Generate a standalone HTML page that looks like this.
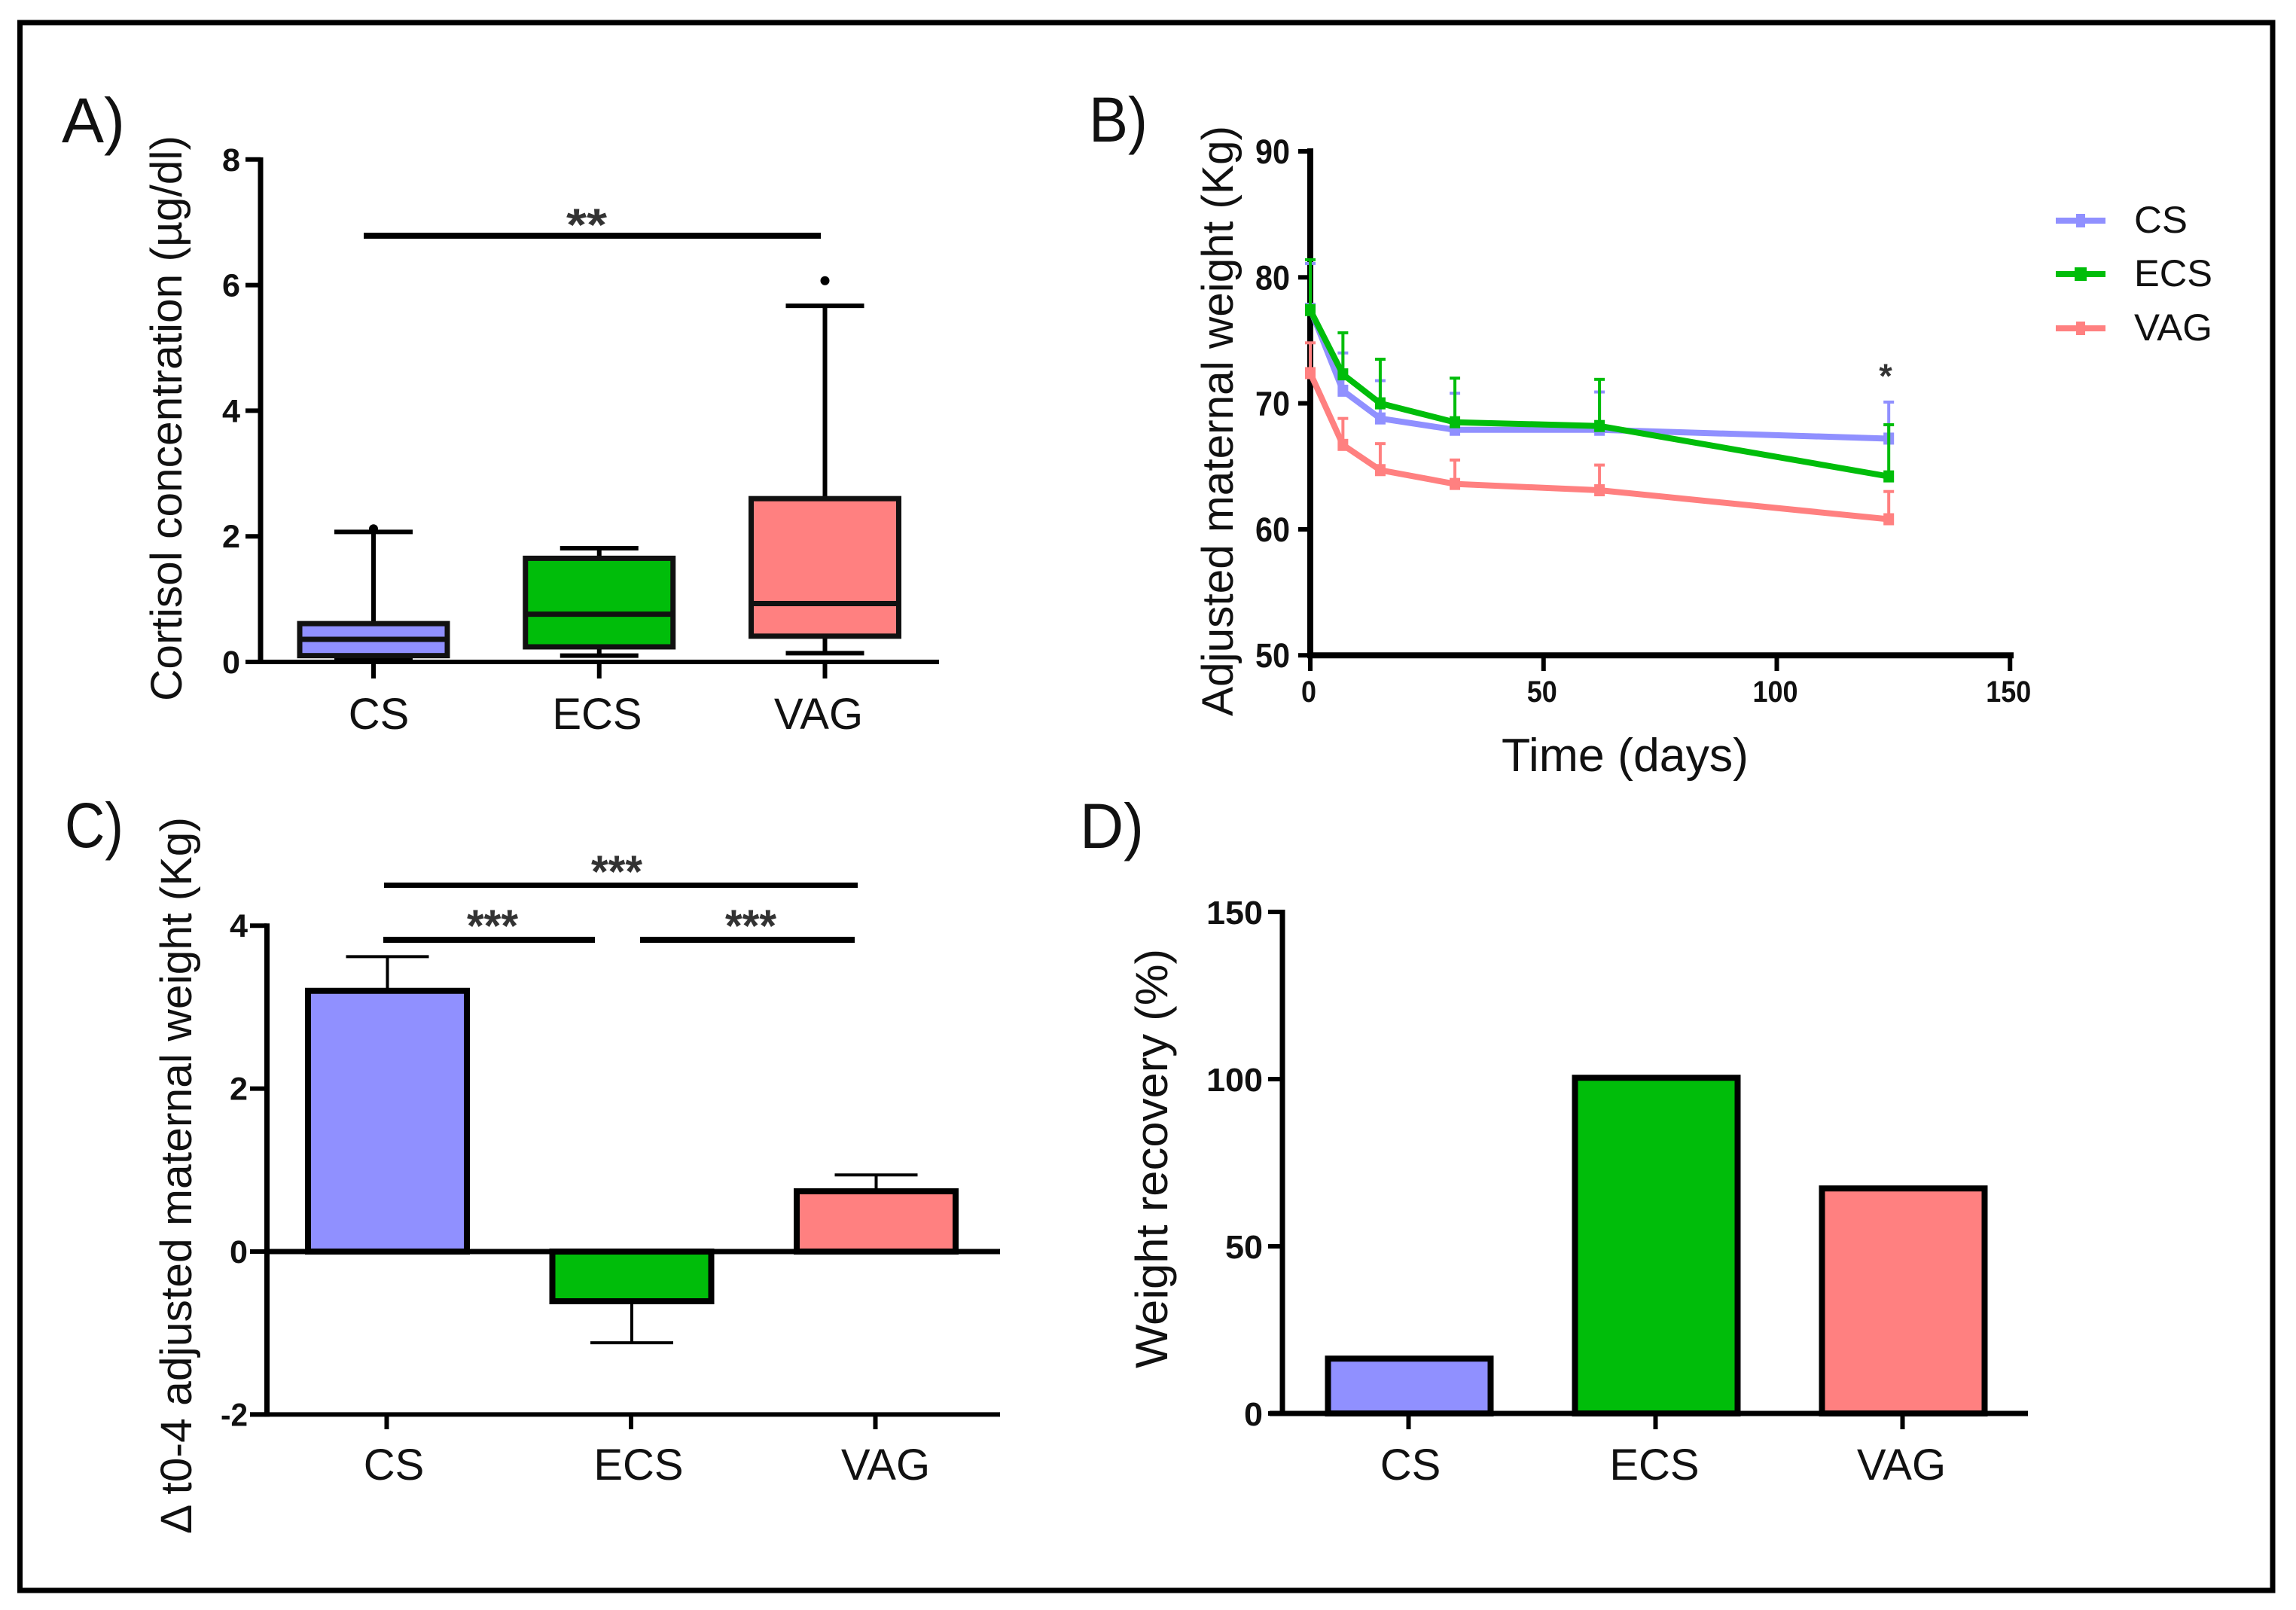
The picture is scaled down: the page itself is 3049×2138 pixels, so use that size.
<!DOCTYPE html>
<html>
<head>
<meta charset="utf-8">
<title>Maternal cortisol and weight figure</title>
<style>
html,body{margin:0;padding:0;background:#fff;}
svg{display:block;}
text{font-family:"Liberation Sans",sans-serif;fill:#111;}
.title{font-size:58px;}
.panel{font-size:84px;}
.cat{font-size:58px;}
.legend{font-size:50px;}
.star{font-size:60px;fill:#333;font-weight:bold;}
</style>
</head>
<body>
<svg id="figure" xmlns="http://www.w3.org/2000/svg" width="3049" height="2138" viewBox="0 0 3049 2138">
  <rect x="0" y="0" width="3049" height="2138" fill="#fff"/>
  <rect x="26.5" y="30" width="2991.5" height="2082" fill="none" stroke="#000" stroke-width="7"/>

  <g id="panelA">
    <text class="panel" x="82" y="189">A)</text>
    <text class="title" transform="translate(241,931) rotate(-90)" textLength="751" lengthAdjust="spacingAndGlyphs">Cortisol concentration (µg/dl)</text>
    <rect x="483" y="309" width="607" height="8" fill="#000"/>
    <text class="star" x="752" y="319" textLength="54" lengthAdjust="spacingAndGlyphs">**</text>
  </g>

  <g id="panelB">
    <text class="panel" x="1446" y="188" textLength="78" lengthAdjust="spacingAndGlyphs">B)</text>
    <text class="title" transform="translate(1637,951) rotate(-90)" textLength="784" lengthAdjust="spacingAndGlyphs">Adjusted maternal weight (Kg)</text>
    <text x="1994" y="1024" font-size="62" textLength="328" lengthAdjust="spacingAndGlyphs">Time (days)</text>
    <text class="star" x="2504" y="515" text-anchor="middle" style="font-size:45px">*</text>
  </g>

  <g id="panelC">
    <text class="panel" x="86" y="1125" textLength="78" lengthAdjust="spacingAndGlyphs">C)</text>
    <text class="title" transform="translate(254,2037) rotate(-90)" textLength="952" lengthAdjust="spacingAndGlyphs">Δ t0-4 adjusted maternal weight (Kg)</text>
    <rect x="510" y="1172" width="629" height="7" fill="#000"/>
    <rect x="509" y="1244" width="281" height="8" fill="#000"/>
    <rect x="850" y="1244" width="285" height="8" fill="#000"/>
    <text class="star" x="785" y="1178" textLength="68" lengthAdjust="spacingAndGlyphs">***</text>
    <text class="star" x="620" y="1250" textLength="68" lengthAdjust="spacingAndGlyphs">***</text>
    <text class="star" x="963" y="1250" textLength="68" lengthAdjust="spacingAndGlyphs">***</text>
  </g>

  <g id="panelD">
    <text class="panel" x="1434" y="1126" textLength="85" lengthAdjust="spacingAndGlyphs">D)</text>
    <text class="title" transform="translate(1550,1817) rotate(-90)" textLength="557" lengthAdjust="spacingAndGlyphs" style="font-size:60px">Weight recovery (%)</text>
  </g>

  <g id="legendB">
    <g>
      <rect x="2730" y="289" width="66" height="8" fill="#9090ff"/>
      <rect x="2757" y="284" width="12" height="18" fill="#9090ff"/>
      <text class="legend" x="2834" y="309" textLength="71" lengthAdjust="spacingAndGlyphs">CS</text>
    </g>
    <g>
      <rect x="2730" y="360" width="66" height="8" fill="#00bd0a"/>
      <rect x="2755" y="355" width="16" height="18" fill="#00bd0a"/>
      <text class="legend" x="2834" y="380" textLength="104" lengthAdjust="spacingAndGlyphs">ECS</text>
    </g>
    <g>
      <rect x="2730" y="432" width="66" height="8" fill="#ff8080"/>
      <rect x="2757" y="427" width="12" height="18" fill="#ff8080"/>
      <text class="legend" x="2834" y="452" textLength="104" lengthAdjust="spacingAndGlyphs">VAG</text>
    </g>
  </g>
</svg>

<script>
const categories = ['CS', 'ECS', 'VAG'];

const cortisolTicks = [0, 2, 4, 6, 8];
const cortisolQ1 = [0.1, 0.24, 0.41];
const cortisolMedian = [0.36, 0.76, 0.93];
const cortisolQ3 = [0.61, 1.65, 2.6];
const cortisolWhiskerLow = [0.05, 0.1, 0.14];
const cortisolWhiskerHigh = [2.07, 1.81, 5.67];
const cortisolOutlier = [2.12, null, 6.07];

const timeDays = [0, 7, 15, 31, 62, 124];
const weightCS = [77.5, 71, 68.8, 67.9, 67.9, 67.2];
const weightECS = [77.4, 72.3, 70, 68.5, 68.2, 64.2];
const weightVAG = [72.4, 66.7, 64.7, 63.6, 63.1, 60.8];
const errorCS = [3.6, 3, 3, 2.9, 3, 2.9];
const errorECS = [4, 3.3, 3.5, 3.5, 3.7, 4.1];
const errorVAG = [2.4, 2.1, 2.1, 1.9, 2, 2.2];
const weightYTicks = [50, 60, 70, 80, 90];
const weightXTicks = [0, 50, 100, 150];

const deltaValues = [3.2, -0.61, 0.74];
const deltaErrors = [0.42, 0.51, 0.2];
const deltaTicks = [-2, 0, 2, 4];

const recoveryValues = [16.4, 100.4, 67.3];
const recoveryTicks = [0, 50, 100, 150];

const colors = ['#9090ff', '#00bd0a', '#ff8080'];
const NS = 'http://www.w3.org/2000/svg';

function mk(parent, tag, attrs) {
  const el = document.createElementNS(NS, tag);
  for (const k in attrs) el.setAttribute(k, attrs[k]);
  parent.appendChild(el);
  return el;
}
function line(parent, x1, y1, x2, y2, color, w) {
  return mk(parent, 'line', {x1: x1, y1: y1, x2: x2, y2: y2, stroke: color, 'stroke-width': w});
}
function tickLabel(parent, x, y, str, size, anchor, perDigit) {
  const t = mk(parent, 'text', {x: x, y: y, 'text-anchor': anchor, 'font-weight': 'bold', 'font-size': size, textLength: String(str).replace('-', '').length * perDigit + (String(str)[0] === '-' ? 12 : 0), lengthAdjust: 'spacingAndGlyphs'});
  t.textContent = str;
  return t;
}
function catLabel(parent, x, y, str) {
  const t = mk(parent, 'text', {x: x, y: y, 'text-anchor': 'middle', 'class': 'cat'});
  t.textContent = str;
  return t;
}

/* ---------- Panel A: box plot ---------- */
(function () {
  const g = document.getElementById('panelA');
  const yA = v => 879 - v * 83.4;
  const xA = i => 496 + i * 299.75;
  const axis = line(g, 346, 209, 346, 882, '#000', 7);
  
  
  cortisolTicks.forEach(v => {
    const tk = line(g, 326, yA(v), 346, yA(v), '#000', 6);
    
    
    const lb = tickLabel(g, 319, yA(v) + 15, v, 43, 'end', 24);
    
    
  });
  categories.forEach((c, i) => {
    const x = xA(i);
    const stem = line(g, x, yA(cortisolWhiskerLow[i]), x, yA(cortisolWhiskerHigh[i]), '#000', 6);
    
    
    const capHi = line(g, x - 52, yA(cortisolWhiskerHigh[i]), x + 52, yA(cortisolWhiskerHigh[i]), '#000', 6);
    
    
    const capLo = line(g, x - 52, yA(cortisolWhiskerLow[i]), x + 52, yA(cortisolWhiskerLow[i]), '#000', 6);
    
    
    const box = mk(g, 'rect', {x: x - 98, y: yA(cortisolQ3[i]), width: 196, height: yA(cortisolQ1[i]) - yA(cortisolQ3[i]), fill: colors[i], stroke: '#111', 'stroke-width': 7});
    
    
    const med = line(g, x - 98, yA(cortisolMedian[i]), x + 98, yA(cortisolMedian[i]), '#111', 7);
    
    
    if (cortisolOutlier[i] !== null) {
      const o = mk(g, 'circle', {cx: x, cy: yA(cortisolOutlier[i]), r: 6, fill: '#000'});
      
      
    }
    const tk = line(g, x, 879, x, 901, '#000', 6);
    
    
  });
  const xAxis = line(g, 326, 879, 1247, 879, '#000', 6);
  
  
  [503, 793, 1087].forEach((px, i) => {
    const lb = catLabel(g, px, 968, categories[i]);
    
    
  });
})();

/* ---------- Panel B: line chart ---------- */
(function () {
  const g = document.getElementById('panelB');
  const xB = d => 1740 + d * 6.195;
  const yB = v => 201 + (90 - v) * 16.73;
  const yAxis = line(g, 1740, 197, 1740, 874, '#000', 8);
  
  
  const xAxis = line(g, 1736, yB(50), 2674, yB(50), '#000', 8);
  
  
  weightYTicks.forEach(v => {
    const tk = line(g, 1724, yB(v), 1740, yB(v), '#000', 6);
    
    
    const lb = tickLabel(g, 1713, yB(v) + 16, v, 45, 'end', 23);
    
    
  });
  weightXTicks.forEach(v => {
    const tk = line(g, xB(v), yB(50), xB(v), 891, '#000', 6);
    
    
    const lb = tickLabel(g, xB(v) - 2, 932, v, 40, 'middle', 20);
    
    
  });
  const seriesValues = [weightCS, weightVAG, weightECS];
  const seriesErrors = [errorCS, errorVAG, errorECS];
  const seriesColors = [colors[0], colors[2], colors[1]];
  const seriesNames = ['cs', 'vag', 'ecs'];
  seriesValues.forEach((vals, s) => {
    const col = seriesColors[s];
    const name = seriesNames[s];
    vals.forEach((v, i) => {
      const x = xB(timeDays[i]);
      const top = v + seriesErrors[s][i];
      const eb = line(g, x, yB(v), x, yB(top), col, 4);
      
      
      const cap = line(g, x - 7, yB(top), x + 7, yB(top), col, 4);
      
      
    });
    const pl = mk(g, 'polyline', {points: vals.map((v, i) => xB(timeDays[i]) + ',' + yB(v)).join(' '), fill: 'none', stroke: col, 'stroke-width': 8, 'stroke-linejoin': 'round'});
    
    
    vals.forEach((v, i) => {
      const m = mk(g, 'rect', {x: xB(timeDays[i]) - 7, y: yB(v) - 8, width: 14, height: 16, fill: col});
      
      
    });
  });
})();

/* ---------- Panel C: delta bars ---------- */
(function () {
  const g = document.getElementById('panelC');
  const yC = v => 1662 - v * 108.2;
  const xC = i => 514.5 + i * 324.5;
  const yAxis = line(g, 354.5, yC(4) - 3, 354.5, yC(-2) + 3, '#000', 7);
  
  
  deltaTicks.forEach(v => {
    const tk = line(g, 332, yC(v), 354, yC(v), '#000', 6);
    
    
    const lb = tickLabel(g, 329, yC(v) + 15, v, 43, 'end', 24);
    
    
  });
  categories.forEach((c, i) => {
    const x = xC(i);
    const v = deltaValues[i];
    const end = v + Math.sign(v) * deltaErrors[i];
    const eb = line(g, x, yC(v), x, yC(end), '#000', 4);
    
    
    const cap = line(g, x - 55, yC(end), x + 55, yC(end), '#000', 4);
    
    
    const top = Math.min(yC(v), yC(0));
    const h = Math.abs(yC(v) - yC(0));
    const bar = mk(g, 'rect', {x: x - 105.5, y: top, width: 211, height: h, fill: colors[i], stroke: '#000', 'stroke-width': 8});
    
    
    const tk = line(g, x - 1, yC(-2), x - 1, 1898, '#000', 6);
    
    
  });
  const zero = line(g, 354, yC(0), 1328, yC(0), '#000', 7);
  
  
  const xAxis = line(g, 332, yC(-2), 1328, yC(-2), '#000', 6);
  
  
  [523, 848, 1176].forEach((px, i) => {
    const lb = catLabel(g, px, 1965, categories[i]);
    
    
  });
})();

/* ---------- Panel D: recovery bars ---------- */
(function () {
  const g = document.getElementById('panelD');
  const yD = v => 1877 - v * 4.44;
  const xD = i => 1871.5 + i * 328;
  const yAxis = line(g, 1703, yD(150) - 3, 1703, yD(0) + 3, '#000', 7);
  
  
  recoveryTicks.forEach(v => {
    const tk = line(g, 1684, yD(v), 1703, yD(v), '#000', 6);
    
    
    const lb = tickLabel(g, 1677, yD(v) + 16, v, 44, 'end', 25);
    
    
  });
  categories.forEach((c, i) => {
    const x = xD(i);
    const bar = mk(g, 'rect', {x: x - 108, y: yD(recoveryValues[i]), width: 216, height: yD(0) - yD(recoveryValues[i]), fill: colors[i], stroke: '#000', 'stroke-width': 8});
    
    
    const tk = line(g, x - 1, yD(0), x - 1, 1898, '#000', 6);
    
    
  });
  const xAxis = line(g, 1686, yD(0), 2693, yD(0), '#000', 7);
  
  
  [1873, 2197, 2525].forEach((px, i) => {
    const lb = catLabel(g, px, 1965, categories[i]);
    
    
  });
})();
</script>
</body>
</html>
